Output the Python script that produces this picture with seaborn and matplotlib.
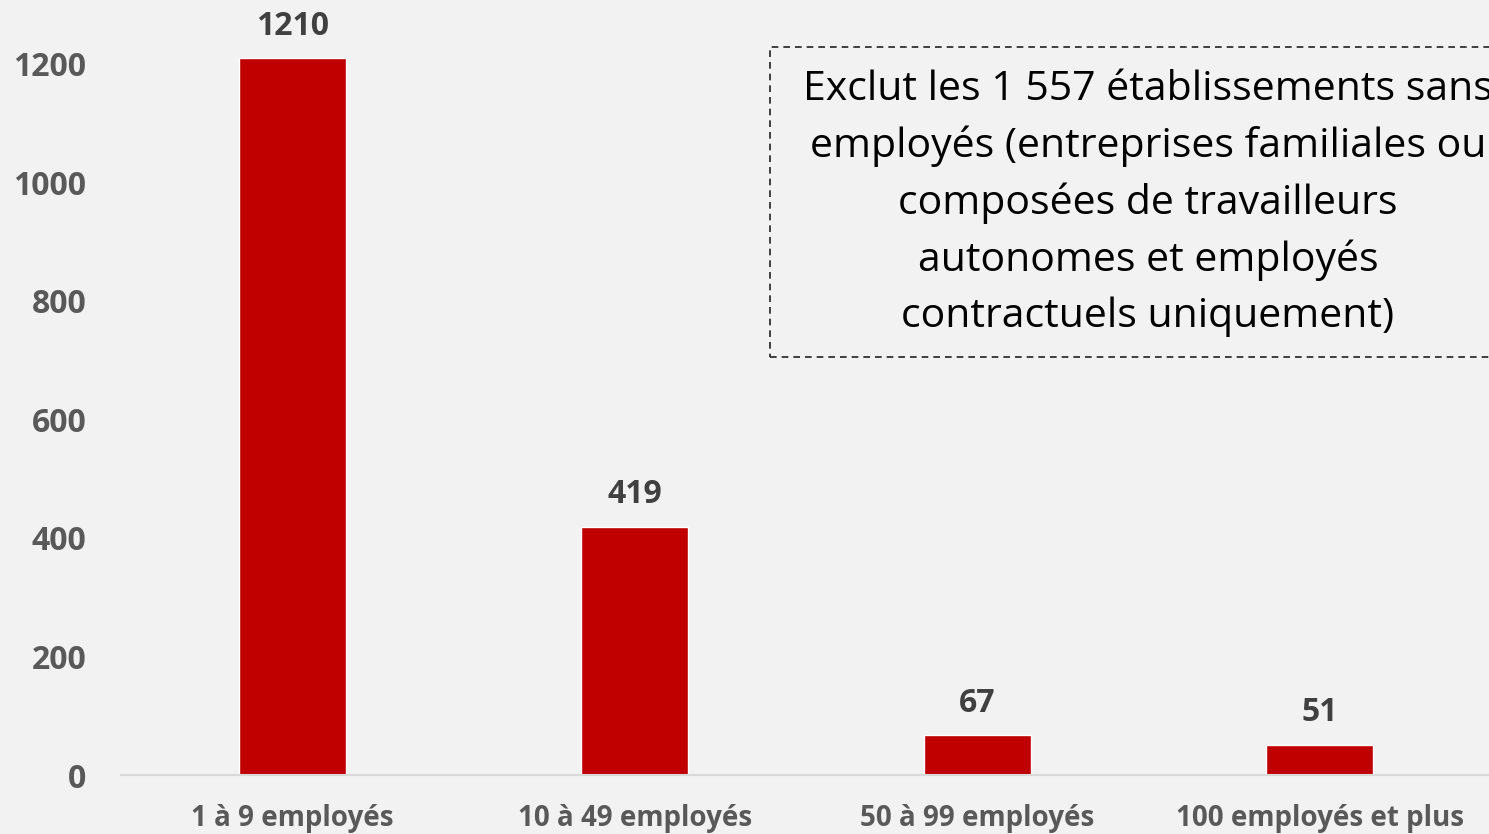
import matplotlib
matplotlib.use("Agg")
import matplotlib.pyplot as plt
from matplotlib.patches import Rectangle
import seaborn as sns
import pandas as pd

categories = ["1 à 9 employés", "10 à 49 employés", "50 à 99 employés", "100 employés et plus"]
values = [1210, 419, 67, 51]
yticks = [0, 200, 400, 600, 800, 1000, 1200]
note = ("Exclut les 1 557 établissements sans\n"
        "employés (entreprises familiales ou\n"
        "composées de travailleurs\n"
        "autonomes et employés\n"
        "contractuels uniquement)")

sns.set_theme(style="white")
plt.rcParams["font.family"] = ["Open Sans", "DejaVu Sans"]

W, H = 1489, 834
fig = plt.figure(figsize=(W / 100, H / 100), dpi=100)
bg = "#F2F2F2"
fig.patch.set_facecolor(bg)

left_px, right_px, top_px, bottom_px = 121, 1491, 0, 775
ax = fig.add_axes([left_px / W, (H - bottom_px) / H, (right_px - left_px) / W, (bottom_px - top_px) / H])
ax.set_facecolor(bg)

df = pd.DataFrame({"cat": categories, "val": values})
sns.barplot(data=df, x="cat", y="val", color="#C00000", saturation=1, width=0.313, ax=ax)

ax.set_xlim(-0.5, 3.5)
ax.set_ylim(0, 1308)
ax.set_yticks(yticks)
ax.set_yticklabels([str(t) for t in yticks])
ax.set_xlabel("")
ax.set_ylabel("")

for s in ["top", "right", "left"]:
    ax.spines[s].set_visible(False)
ax.spines["bottom"].set_color("#D9D9D9")
ax.spines["bottom"].set_linewidth(1.5)
ax.tick_params(axis="both", length=0)
ax.tick_params(axis="y", pad=25)
ax.tick_params(axis="x", pad=21)
for lab in ax.get_yticklabels():
    lab.set_fontweight("bold")
    lab.set_color("#595959")
    lab.set_fontsize(23)
for lab in ax.get_xticklabels():
    lab.set_fontweight("bold")
    lab.set_color("#595959")
    lab.set_fontsize(20)

for i, v in enumerate(values):
    ax.annotate(str(v), (i, v), xytext=(0, 23), textcoords="offset points",
                ha="center", va="center", fontsize=23, fontweight="bold",
                color="#404040", annotation_clip=False)

# note box
bx0, by0, bx1, by1 = 770, 47, 1540, 357
fig.patches.append(Rectangle((bx0 / W, (H - by1) / H), (bx1 - bx0) / W, (by1 - by0) / H,
                             transform=fig.transFigure, fill=False, edgecolor="#222222",
                             linewidth=1.2, linestyle=(0, (4, 3))))
fig.text(1148 / W, (H - 203) / H, note, ha="center", va="center", fontsize=29.5,
         color="black", linespacing=1.5)

fig.savefig("out.png", dpi=100, facecolor=bg)
